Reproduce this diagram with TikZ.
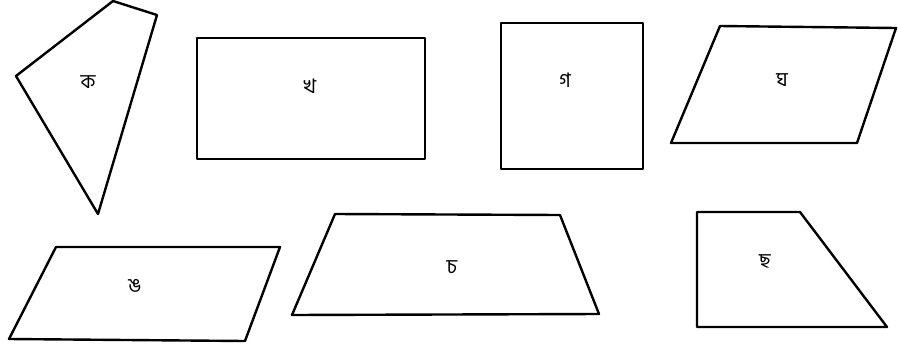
\documentclass[tikz,border=0pt]{standalone}
\usepackage{fontspec}
\newfontfamily\bengalifont[Script=Bengali]{Hind Siliguri}
\usepackage{tikz}
\usetikzlibrary{positioning}

\tikzset{
  edge/.style={black, line width=2.4pt, line join=round},
  lbl/.style={font=\bengalifont\fontsize{20}{22}\selectfont, inner sep=0pt}
}

\begin{document}
\begin{tikzpicture}[x=1pt, y=-1pt]
    \useasboundingbox (0,0) rectangle (898,354);

    % Shape ka (kite-like quadrilateral)
    \draw[edge] (16,76) -- (113,1) -- (157,15) -- (98,214) -- cycle;
    \node[lbl] (ka) at (88,82) {ক};

    % Shape kha (rectangle)
    \draw[edge] (197,38) rectangle (425,159);
    \node[lbl] (kha) at (310,86) {খ};

    % Shape ga (square)
    \draw[edge] (501,23) rectangle (643,169);
    \node[lbl] (ga) at (565,80) {গ};

    % Shape gha (parallelogram)
    \draw[edge] (720,26) -- (896,28) -- (857,143) -- (671,143) -- cycle;
    \node[lbl] (gha) at (782,80) {ঘ};

    % Shape nga (parallelogram)
    \draw[edge] (56,247) -- (280,247) -- (245,341) -- (9,339) -- cycle;
    \node[lbl] (nga) at (135,286) {ঙ};

    % Shape ca (trapezium)
    \draw[edge] (335,214) -- (560,215) -- (599,314) -- (292,315) -- cycle;
    \node[lbl] (ca) at (452,267) {চ};

    % Shape cha (right trapezium)
    \draw[edge] (697,212) -- (800,212) -- (887,327) -- (697,327) -- cycle;
    \node[lbl] (cha) at (765,261) {ছ};
\end{tikzpicture}
\end{document}
